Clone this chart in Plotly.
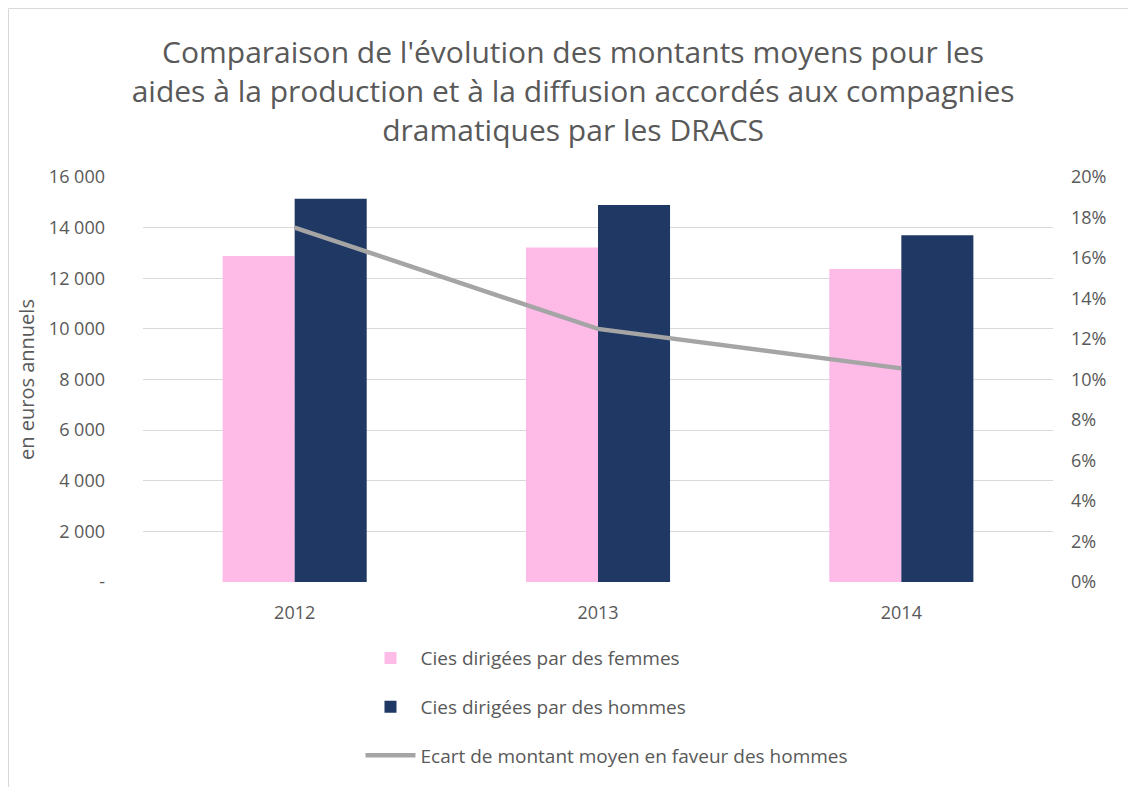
import plotly.graph_objects as go

years = ["2012", "2013", "2014"]
femmes = [12880, 13210, 12370]
hommes = [15140, 14890, 13700]
ecart = [0.175, 0.125, 0.1055]

left_tickvals = [0, 2000, 4000, 6000, 8000, 10000, 12000, 14000, 16000]
left_ticktext = ["-", "2 000", "4 000", "6 000", "8 000", "10 000", "12 000", "14 000", "16 000"]
right_tickvals = [0, 0.02, 0.04, 0.06, 0.08, 0.10, 0.12, 0.14, 0.16, 0.18, 0.20]
right_ticktext = ["0%", "2%", "4%", "6%", "8%", "10%", "12%", "14%", "16%", "18%", "20%"]

title = ("Comparaison de l'évolution des montants moyens pour les<br>"
         "aides à la production et à la diffusion accordés aux compagnies<br>"
         "dramatiques par les DRACS")

FONT = "Open Sans"
GREY = "#595959"

# page body adds an 8px offset; figure is sized so it ends at the window edge
W, H = 1128, 779
L, R, T, B = 135, 83, 169, 205
PW, PH = W - L - R, H - T - B

fig = go.Figure()
fig.add_trace(go.Bar(x=years, y=femmes, name="Cies dirigées par des femmes",
                     marker=dict(color="#FFBBE8", line=dict(width=0)),
                     legendgroup="a"))
fig.add_trace(go.Bar(x=years, y=hommes, name="Cies dirigées par des hommes",
                     marker=dict(color="#203864", line=dict(width=0)),
                     legendgroup="b"))
fig.add_trace(go.Scatter(x=years, y=ecart, name="Ecart de montant moyen en faveur des hommes",
                         mode="lines", line=dict(color="#A5A5A5", width=4.5),
                         yaxis="y2", legendgroup="c"))

fig.update_layout(
    width=W, height=H,
    margin=dict(l=L, r=R, t=T, b=B),
    paper_bgcolor="white", plot_bgcolor="white",
    font=dict(family=FONT, color=GREY, size=18),
    title=dict(text=title, x=0.501, xanchor="center", xref="container",
               y=1 - 55 / H, yanchor="middle",
               font=dict(family=FONT, size=30, color=GREY)),
    barmode="group", bargap=0.525, bargroupgap=0,
    xaxis=dict(showgrid=False, showline=False, ticks="", ticklabelstandoff=18,
               tickfont=dict(size=18, color=GREY)),
    yaxis=dict(range=[0, 16000], tickvals=left_tickvals, ticktext=left_ticktext,
               showgrid=True, gridcolor="#D9D9D9", gridwidth=1, zeroline=False,
               showline=False, ticks="", ticklabelstandoff=37,
               title=dict(text="en euros annuels", font=dict(size=20, color=GREY), standoff=8),
               tickfont=dict(size=18, color=GREY)),
    yaxis2=dict(range=[0, 0.20], tickvals=right_tickvals, ticktext=right_ticktext,
                overlaying="y", side="right", showgrid=False, zeroline=False,
                showline=False, ticks="", tickfont=dict(size=18, color=GREY),
                ticklabelstandoff=17),
    legend=dict(orientation="v", x=0.239, xanchor="left", y=-0.141, yanchor="top",
                font=dict(size=19, color=GREY), itemwidth=50, tracegroupgap=21,
                traceorder="grouped", bgcolor="rgba(0,0,0,0)"),
    showlegend=True,
)

fig.add_shape(type="rect", xref="paper", yref="paper",
              x0=(0.5 - L) / PW, x1=(W + 20 - L) / PW,
              y0=-(B + 20) / PH, y1=(PH + T - 0.5) / PH,
              line=dict(color="#D9D9D9", width=1), fillcolor="rgba(0,0,0,0)", layer="below")

fig.write_html("out.html")
